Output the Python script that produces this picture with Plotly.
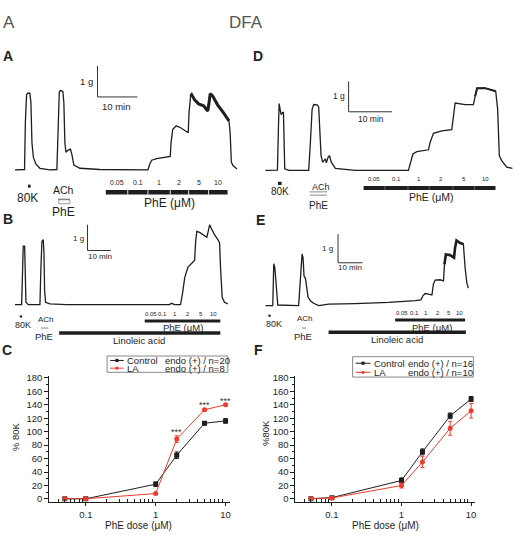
import math
import plotly.graph_objects as go

W, H = 516, 535
FONT = "Liberation Sans, Arial, sans-serif"
INK = "#1e1e1e"
RED = "#ec3b2f"

# ---------------- tension recordings (time in min, tension in g above baseline) ----------------
A_time = [0, 2.4, 2.6, 2.9, 3.25, 3.75, 4.0, 4.25, 4.6, 5.25, 6.25, 8.75,
          10.5, 10.75, 11.1, 11.4, 12.0, 12.25, 12.5, 12.75, 13.25, 13.9, 14.25, 14.75, 16.25, 21.25,
          33.3, 33.75, 34.25, 35.5, 37.5, 38.9, 39.1, 39.5, 40.4, 41.5, 43.4, 43.6, 44.0, 44.25,
          45.0, 46.0, 47.25, 48.3, 48.6, 48.9, 49.5, 50.75, 52.25, 53.6, 53.9, 54.2, 54.6, 55.6]
A_tension = [0, 0.01, 1.52, 2.42, 2.48, 2.47, 2.16, 0.88, 0.41, 0.18, 0.05, 0,
             0.01, 1.52, 2.51, 2.57, 2.53, 2.16, 0.88, 0.57, 0.63, 0.67, 0.5, 0.15, 0.05, 0.01,
             0, 0.18, 0.31, 0.36, 0.39, 0.43, 0.88, 1.30, 1.42, 1.36, 1.20, 1.84, 2.39, 2.43,
             2.26, 2.13, 2.07, 1.90, 2.16, 2.46, 2.39, 2.10, 1.84, 1.58, 1.20, 0.25, 0.14, 0.03]
A_phe_edges = [22.75, 28.25, 33.3, 38.9, 43.5, 48.5, 53.25]

D_time = [0, 2.76, 3.0, 3.15, 3.38, 3.61, 3.92, 4.15, 4.3, 4.45,
          5.38, 9.98, 10.37, 10.76, 11.13, 11.9, 12.28, 12.5, 12.83, 13.2,
          13.82, 14.06, 14.44, 14.75, 15.2, 16.13, 17.67, 20.74, 33.0, 33.48,
          34.03, 34.95, 37.63, 38.0, 38.78, 40.7, 43.0, 43.4, 43.78, 46.1,
          48.0, 48.4, 48.85, 50.7, 53.15, 53.6, 53.98, 54.5, 55.7, 57.0]
D_tension = [0, 0.01, 1.47, 2.20, 2.01, 1.84, 1.90, 1.92, 0.92, 0.05,
             0, 0, 0.92, 2.01, 2.17, 2.16, 2.09, 1.36, 0.49, 0.27,
             0.38, 0.25, 0.43, 0.49, 0.27, 0.07, 0.05, 0, 0, 0.27,
             0.54, 0.62, 0.68, 0.92, 1.22, 1.30, 1.34, 1.79, 2.22, 2.17,
             2.17, 2.44, 2.71, 2.71, 2.61, 2.01, 0.49, 0.33, 0.11, 0.07]
D_phe_edges = [22.65, 27.6, 32.9, 37.8, 43.3, 48.3, 53.1]

B_time = [0, 2.86, 3.3, 3.56, 4.16, 4.42, 4.72, 5.71, 10.73, 11.16,
          11.59, 12.15, 12.45, 12.75, 13.18, 15.0, 22.2, 66.5, 67.25, 68.7,
          71.2, 72.0, 73.0, 74.4, 76.3, 77.25, 77.7, 78.2, 79.4, 81.1,
          82.5, 83.1, 83.7, 84.4, 85.8, 87.25, 88.0, 88.4, 89.1, 90.1, 91.5]
B_tension = [0, 0, 1.43, 2.27, 2.27, 1.43, 0.09, 0, 0, 1.43,
             2.46, 2.53, 2.08, 0.54, 0.09, 0.03, 0, 0, 0.05, 0,
             0, 0.41, 1.05, 1.46, 1.65, 1.72, 2.46, 2.85, 2.81, 2.72,
             2.62, 2.85, 3.1, 2.97, 2.72, 2.53, 2.4, 1.43, 0.28, 0.09, 0.03]
B_phe_edges = [55.8, 61.0, 66.3, 71.2, 77.2, 82.6, 88.3]
B_la = [19.0, 88.3]

E_time = [0, 2.97, 3.37, 3.78, 4.19, 4.6, 5.0, 13.5, 14.1, 14.9,
          15.3, 15.7, 16.26, 16.67, 17.35, 18.3, 19.6, 21.7, 25.7, 36.6,
          50.1, 61.0, 63.3, 64.1, 65.0, 66.4, 67.8, 68.4, 69.1, 71.1,
          72.5, 72.9, 73.45, 75.2, 76.8, 77.2, 77.8, 79.3, 80.6, 81.3, 82.0, 82.6]
E_tension = [0, 0, 1.46, 1.32, 0.92, 0.4, 0.02, 0, 0.75, 1.8,
             1.67, 1.03, 0.95, 0.61, 0.29, 0.17, 0.08, 0, 0.05, 0.07,
             0.11, 0.17, 0.2, 0.34, 0.42, 0.4, 0.37, 0.75, 0.89, 0.9,
             0.86, 1.44, 1.78, 1.76, 1.67, 2.01, 2.27, 2.18, 2.15, 1.32, 0.80, 0.61]
E_phe_edges = [52.8, 58.0, 63.2, 67.9, 72.8, 77.0, 81.3]
E_la = [25.7, 81.6]

dose_labels = ["0.05", "0.1", "1", "2", "5", "10"]
scale_min = 10   # min
scale_g = 1      # g

# ---------------- dose-response (% of 80K) ----------------
doses = [0.05, 0.1, 1, 2, 5, 10]
C_ctrl = [0.3, 0.3, 22, 65, 112.5, 116]
C_ctrl_err = [0.5, 0.5, 3.4, 4.9, 2.5, 3.4]
C_la = [0.3, 0.3, 8, 89, 132.5, 140]
C_la_err = [0.5, 0.5, 1.5, 4.9, 1.5, 1.5]
C_sig_doses = [1, 2, 5, 10]
F_ctrl = [0.5, 2, 27.5, 70, 123.5, 148.5]
F_ctrl_err = [0.5, 1, 3.9, 4.4, 4.2, 3.7]
F_la = [0.5, 1.5, 20, 55, 105, 131]
F_la_err = [0.5, 1, 3.7, 8.4, 10.3, 10.8]
C_legend = [("Control", "endo (+) / n=20"), ("LA", "endo (+) / n=8")]
F_legend = [("Control", "endo (+) / n=16"), ("LA", "endo (+) / n=10")]

fig = go.Figure()
ann = []
shapes = []


def T(x, y, s, size, color=INK, xanchor="center", yanchor="middle", angle=0, xref="paper"):
    ann.append(dict(x=(x / W) if xref == "paper" else x, y=1 - y / H, xref=xref, yref="paper",
                    text=s, showarrow=False, textangle=angle,
                    font=dict(size=size, color=color, family=FONT),
                    xanchor=xanchor, yanchor=yanchor))


def line_px(x0, x1, y0, y1, color=INK, width=1):
    shapes.append(dict(type="line", xref="paper", yref="paper", x0=x0 / W, x1=x1 / W,
                       y0=1 - y0 / H, y1=1 - y1 / H, line=dict(color=color, width=width)))


# ---------------- recording panels ----------------
panels = {}


def trace_panel(n, dom_x, dom_y, t0_px, ppm, base_py, ppg):
    xr = [(dom_x[0] - t0_px) / ppm, (dom_x[1] - t0_px) / ppm]
    yr = [(base_py - dom_y[1]) / ppg, (base_py - dom_y[0]) / ppg]
    fig.update_layout(**{
        f"xaxis{n}": dict(domain=[dom_x[0] / W, dom_x[1] / W], range=xr, visible=False,
                          anchor=f"y{n}", fixedrange=True),
        f"yaxis{n}": dict(domain=[1 - dom_y[1] / H, 1 - dom_y[0] / H], range=yr, visible=False,
                          anchor=f"x{n}", fixedrange=True),
    })
    panels[n] = dict(t=lambda p: (p - t0_px) / ppm, g=lambda p: (base_py - p) / ppg)


def rec(n, t, g, width=1.3):
    fig.add_trace(go.Scatter(x=t, y=g, mode="lines", xaxis=f"x{n}", yaxis=f"y{n}",
                             line=dict(color=INK, width=width), hoverinfo="skip"))


def noisy(n, t, g, t0, t1, width):
    idx = [i for i, v in enumerate(t) if t0 <= v <= t1]
    rec(n, [t[i] for i in idx], [g[i] for i in idx], width)


def scalebar(n, cx, cy):
    P = panels[n]
    t0, g0 = P["t"](cx), P["g"](cy)
    fig.add_trace(go.Scatter(x=[t0, t0, t0 + scale_min], y=[g0 + scale_g, g0, g0], mode="lines",
                             xaxis=f"x{n}", yaxis=f"y{n}", line=dict(color="#333", width=1),
                             hoverinfo="skip"))


def drug_bar(n, t0, t1, ypx, thick, color=INK):
    g = panels[n]["g"](ypx)
    fig.add_trace(go.Scatter(x=[t0, t1], y=[g, g], mode="lines", xaxis=f"x{n}", yaxis=f"y{n}",
                             line=dict(color=color, width=thick), hoverinfo="skip"))


def dose_text(n, edges, ypx, size):
    for i, lab in enumerate(dose_labels):
        T((edges[i] + edges[i + 1]) / 2, ypx, lab, size, xref=f"x{n}")


def separators(n, edges, ypx, half, color):
    g = panels[n]["g"]
    for e in edges[1:-1]:
        shapes.append(dict(type="line", xref=f"x{n}", yref=f"y{n}", x0=e, x1=e,
                           y0=g(ypx - half), y1=g(ypx + half), line=dict(color=color, width=1)))


# A
trace_panel(3, (0, 258), (40, 215), 15, 4.0, 167.7, 31.3)
rec(3, A_time, A_tension)
noisy(3, A_time, A_tension, 44.0, 53.6, 3.0)
scalebar(3, 97.7, 94)
drug_bar(3, A_phe_edges[0], A_phe_edges[-1], 190.5, 4.5)
separators(3, A_phe_edges, 190.5, 2.5, "#dddddd")
dose_text(3, A_phe_edges, 181, 7)
T(95, 78.7, "1 g", 9.5, xanchor="right")
T(116.7, 103.3, "10 min", 9.5)
shapes.append(dict(type="rect", xref="paper", yref="paper", x0=28 / W, x1=30.7 / W,
                   y0=1 - 185.7 / H, y1=1 - 182.7 / H, fillcolor=INK, line=dict(width=0)))
T(28, 196, "80K", 12)
T(64, 188, "ACh", 10.5)
line_px(58.3, 70, 197.5, 197.5, INK, 1)
shapes.append(dict(type="rect", xref="paper", yref="paper", x0=59 / W, x1=70 / W,
                   y0=1 - 202 / H, y1=1 - 198 / H, line=dict(color="#999", width=1)))
T(64, 210, "PhE", 12)
T(170, 201, "PhE (μM)", 12)

# D
trace_panel(4, (258, 516), (40, 215), 266, 4.34, 168.3, 30.7)
rec(4, D_time, D_tension)
noisy(4, D_time, D_tension, 48.4, 53.15, 2.0)
scalebar(4, 349.3, 109)
drug_bar(4, D_phe_edges[0], D_phe_edges[-1], 186, 4)
separators(4, D_phe_edges, 186, 2, "#666")
dose_text(4, D_phe_edges, 176.7, 6)
T(347.5, 93.3, "1 g", 8.5, xanchor="right")
T(371.5, 116, "10 min", 8.5)
shapes.append(dict(type="rect", xref="paper", yref="paper", x0=278.5 / W, x1=282.2 / W,
                   y0=1 - 183 / H, y1=1 - 179.8 / H, fillcolor=INK, line=dict(width=0)))
T(281, 190, "80K", 10)
T(321.5, 185, "ACh", 9)
line_px(310.3, 327.7, 190, 190, "#888", 1)
line_px(310.3, 327.7, 193.3, 193.3, "#888", 1)
T(319.5, 203.3, "PhE", 10)
T(432.7, 195, "PhE (μM)", 10.5)

# B
trace_panel(5, (0, 258), (215, 345), 15, 2.33, 304, 26)
rec(5, B_time, B_tension)
scalebar(5, 87.7, 249.3)
drug_bar(5, B_phe_edges[0], B_phe_edges[-1], 320.7, 3)
drug_bar(5, B_la[0], B_la[1], 332.7, 3.5)
dose_text(5, B_phe_edges, 313.3, 6)
T(86, 237.3, "1 g", 8, xanchor="right")
T(100.5, 255, "10 min", 8)
shapes.append(dict(type="circle", xref="paper", yref="paper", x0=19.8 / W, x1=22.2 / W,
                   y0=1 - 317.2 / H, y1=1 - 314.8 / H, fillcolor=INK, line=dict(width=0)))
T(23.3, 324.3, "80K", 9)
T(45.8, 319, "ACh", 8)
line_px(41, 48.3, 327.7, 327.7, "#888", 1)
T(44.2, 336, "PhE", 9.5)
T(183.3, 327.3, "PhE (μM)", 9.5)
T(139.3, 340.7, "Linoleic acid", 9.5)

# E
trace_panel(6, (258, 516), (215, 345), 266, 2.46, 305, 29)
rec(6, E_time, E_tension)
noisy(6, E_time, E_tension, 72.9, 80.6, 2.6)
scalebar(6, 338.7, 261.7)
drug_bar(6, E_phe_edges[0], E_phe_edges[-1], 319.5, 3)
drug_bar(6, E_la[0], E_la[1], 332, 3.5)
dose_text(6, E_phe_edges, 312.7, 6)
T(336, 247.7, "1 g", 8, xanchor="right")
T(350.7, 266.7, "10 min", 8)
shapes.append(dict(type="circle", xref="paper", yref="paper", x0=268.8 / W, x1=271.2 / W,
                   y0=1 - 316.5 / H, y1=1 - 314.1 / H, fillcolor=INK, line=dict(width=0)))
T(275, 323.3, "80K", 9)
T(306, 317.7, "ACh", 8)
line_px(302.7, 306.7, 327.7, 327.7, "#888", 1)
T(303.8, 336, "PhE", 9.5)
T(432.7, 326.7, "PhE (μM)", 9.5)
T(397.7, 339.3, "Linoleic acid", 9.5)

# ---------------- dose-response panels C (x/y) and F (x2/y2) ----------------
minor_vals = [0.04, 0.05, 0.06, 0.07, 0.08, 0.09] + [k / 10 for k in range(2, 10)] + list(range(2, 10))


def dr_axes(n, dom_x):
    sx = "" if n == 1 else str(n)
    fig.update_layout(**{
        f"xaxis{sx}": dict(type="log", domain=[dom_x[0] / W, dom_x[1] / W], range=[-1.524, 1.057],
                           showline=True, linecolor=INK, linewidth=1, ticks="outside", ticklen=3,
                           tickwidth=1, tickcolor=INK, tickvals=[0.1, 1, 10],
                           ticktext=["0.1", "1", "10"], tickfont=dict(size=9.5, color=INK),
                           showgrid=False, zeroline=False, anchor=f"y{sx}", fixedrange=True,
                           minor=dict(tickvals=minor_vals, ticks="inside", ticklen=3,
                                      tickcolor=INK, tickwidth=1, showgrid=False)),
        f"yaxis{sx}": dict(domain=[1 - 504 / H, 1 - 376.7 / H], range=[-5, 182], showline=True,
                           linecolor=INK, linewidth=1, ticks="outside", ticklen=4, tickwidth=1,
                           tickcolor=INK, tick0=0, dtick=20, tickfont=dict(size=9.5, color=INK),
                           showgrid=False, zeroline=False, anchor=f"x{sx}", fixedrange=True,
                           minor=dict(dtick=10, tick0=0, ticks="outside", ticklen=2,
                                      tickcolor=INK, tickwidth=1, showgrid=False)),
    })


def dr_series(n, y, err, color, symbol):
    sx = "" if n == 1 else str(n)
    fig.add_trace(go.Scatter(x=doses, y=y, mode="lines+markers", xaxis=f"x{sx}", yaxis=f"y{sx}",
                             line=dict(color=color, width=1),
                             marker=dict(color=color, size=5, symbol=symbol),
                             error_y=dict(type="data", array=err, color=color, thickness=1, width=2),
                             hoverinfo="skip"))


dr_axes(1, (49.3, 230))
dr_axes(2, (296, 476))
dr_series(1, C_ctrl, C_ctrl_err, INK, "square")
dr_series(1, C_la, C_la_err, RED, "circle")
dr_series(2, F_ctrl, F_ctrl_err, INK, "square")
dr_series(2, F_la, F_la_err, RED, "circle")

# significance stars in C
star_y = {1: -7, 2: 100, 5: 139, 10: 145}
for d in C_sig_doses:
    ann.append(dict(x=math.log10(d), y=star_y[d], xref="x", yref="y", text="***", showarrow=False,
                    font=dict(size=9, color="#333", family=FONT), xanchor="center", yanchor="middle"))

T(15, 437, "% 80K", 9.5, angle=-90)
T(138.3, 527, "PhE dose (μM)", 10)
T(266, 433.3, "%80K", 9.5, angle=-90)
T(386, 527, "PhE dose (μM)", 10)


def legend_box(x0, x1, y0, y1, rows_y, entries, name_x, rest_x, size):
    shapes.append(dict(type="rect", xref="paper", yref="paper", x0=x0 / W, x1=x1 / W,
                       y0=1 - y1 / H, y1=1 - y0 / H, line=dict(color="#888", width=1)))
    for (nm, rest), ry, col, sym in zip(entries, rows_y, (INK, RED), ("rect", "circle")):
        line_px(x0 + 3, name_x - 1.5, ry, ry, col, 1)
        cx = (x0 + 3 + name_x - 1.5) / 2
        shapes.append(dict(type=sym, xref="paper", yref="paper", x0=(cx - 1.6) / W, x1=(cx + 1.6) / W,
                           y0=1 - (ry + 1.6) / H, y1=1 - (ry - 1.6) / H, fillcolor=col,
                           line=dict(width=0)))
        T(name_x, ry, nm, size, xanchor="left")
        T(rest_x, ry, rest, size, xanchor="left")


legend_box(107.3, 228.3, 356.0, 372.5, [360.5, 368.3], C_legend, 125.5, 163, 9.5)
legend_box(353.3, 474.3, 356.7, 377.3, [363.3, 372.5], F_legend, 372.7, 406.7, 9.5)

# ---------------- titles & panel letters ----------------
T(9, 19, "A", 17, color="#555")
T(246, 19, "DFA", 17, color="#555")
for lab, x, y in (("A", 8, 53), ("D", 258, 53), ("B", 8.3, 217), ("E", 261, 218),
                  ("C", 7, 350), ("F", 259, 350)):
    T(x, y, f"<b>{lab}</b>", 14, color="#222")

fig.update_layout(width=W, height=H, margin=dict(l=0, r=0, t=0, b=0), showlegend=False,
                  paper_bgcolor="white", plot_bgcolor="rgba(0,0,0,0)",
                  font=dict(family=FONT, color=INK), annotations=ann, shapes=shapes)
fig.write_html("out.html")
